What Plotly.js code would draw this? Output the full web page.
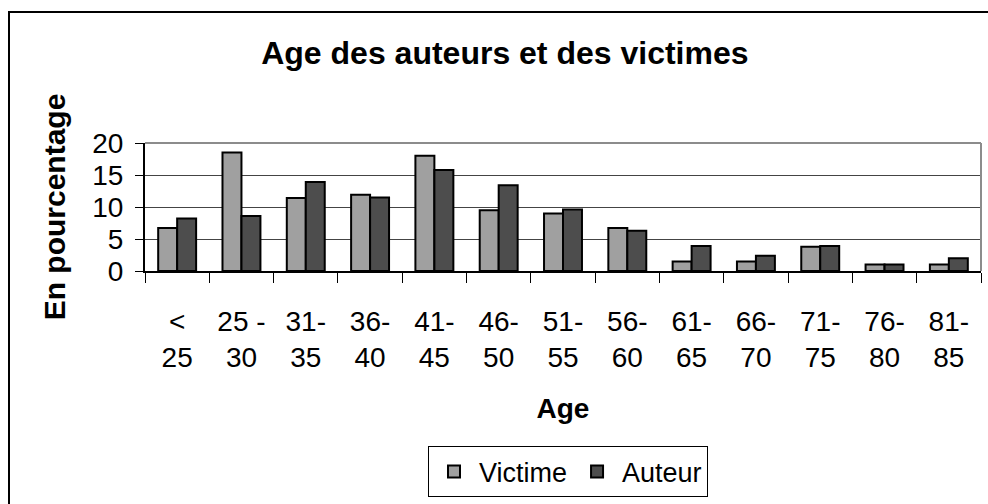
<!DOCTYPE html>
<html>
<head>
<meta charset="utf-8">
<script src="https://cdn.plot.ly/plotly-3.0.1.min.js"></script>
<style>
html, body { margin: 0; padding: 0; overflow: hidden; background: #fff; }
#chart { width: 988px; height: 504px; }
#frame { position: absolute; left: 8px; top: 11px; width: 1200px; height: 800px;
  border-left: 2px solid #000; border-top: 2px solid #000; pointer-events: none; }
</style>
</head>
<body>
<div id="chart"></div>
<div id="frame"></div>
<script>
const ageGroups = ["&lt;<br>25", "25 -<br>30", "31-<br>35", "36-<br>40", "41-<br>45", "46-<br>50",
  "51-<br>55", "56-<br>60", "61-<br>65", "66-<br>70", "71-<br>75", "76-<br>80", "81-<br>85"];
const victime = [6.7, 18.5, 11.4, 11.9, 18.0, 9.5, 9.0, 6.7, 1.5, 1.5, 3.8, 1.0, 1.0];
const auteur  = [8.2, 8.6, 13.9, 11.5, 15.8, 13.4, 9.6, 6.3, 3.9, 2.4, 3.9, 1.0, 2.0];
const yTicks = [0, 5, 10, 15, 20];

const font = "Liberation Sans, Arial, sans-serif";

const traces = [
  { type: "bar", name: "Victime", x: ageGroups, y: victime,
    marker: { color: "#a0a0a0", line: { color: "#000", width: 2 } } },
  { type: "bar", name: "Auteur", x: ageGroups, y: auteur,
    marker: { color: "#4d4d4d", line: { color: "#000", width: 2 } } }
];

const layout = {
  width: 988, height: 504,
  paper_bgcolor: "#fff", plot_bgcolor: "#fff",
  margin: { l: 145, r: 7, t: 143, b: 228 },
  font: { family: font, color: "#000", size: 28 },
  title: { text: "<b>Age des auteurs et des victimes</b>", font: { family: font, size: 32, color: "#000" },
    x: 0.511, xref: "container", xanchor: "center", y: 0.895, yref: "container", yanchor: "middle" },
  barmode: "group", bargap: 0.41, bargroupgap: 0,
  showlegend: true,
  legend: { orientation: "h", x: 0.506, xanchor: "center", y: -1.37, yanchor: "top",
    bordercolor: "#000", borderwidth: 1, bgcolor: "#fff", itemwidth: 40,
    font: { family: font, size: 27, color: "#000" }, traceorder: "normal" },
  xaxis: {
    type: "category", tickson: "boundaries", ticks: "outside", ticklen: 10, tickcolor: "#000", tickwidth: 1,
    showline: true, linecolor: "#000", linewidth: 2, showgrid: false,
    tickfont: { family: font, size: 28, color: "#000" }, tickangle: 0,
    ticklabelstandoff: 24,
    title: { text: "<b>Age</b>", font: { family: font, size: 28, color: "#000" }, standoff: 26 },
    automargin: false
  },
  yaxis: {
    range: [0, 20], tickmode: "array", tickvals: yTicks, ticktext: yTicks.map(String),
    ticks: "outside", ticklen: 8, tickcolor: "#000", tickwidth: 1,
    showline: true, linecolor: "#000", linewidth: 2,
    showgrid: true, gridcolor: "#444", gridwidth: 1, zeroline: false,
    tickfont: { family: font, size: 28, color: "#000" }, ticklabelstandoff: 6,
    title: { text: "<b>En pourcentage</b>", font: { family: font, size: 30, color: "#000" }, standoff: 18 },
    automargin: false
  },
  shapes: [
    { type: "line", xref: "paper", yref: "paper", x0: 0, x1: 1, y0: 1, y1: 1,
      line: { color: "#8c8c8c", width: 2 }, layer: "above" },
    { type: "line", xref: "paper", yref: "paper", x0: 1, x1: 1, y0: 0, y1: 1,
      line: { color: "#8c8c8c", width: 2 }, layer: "above" }
  ]
};

Plotly.newPlot("chart", traces, layout, { staticPlot: true, displayModeBar: false });
</script>
</body>
</html>
